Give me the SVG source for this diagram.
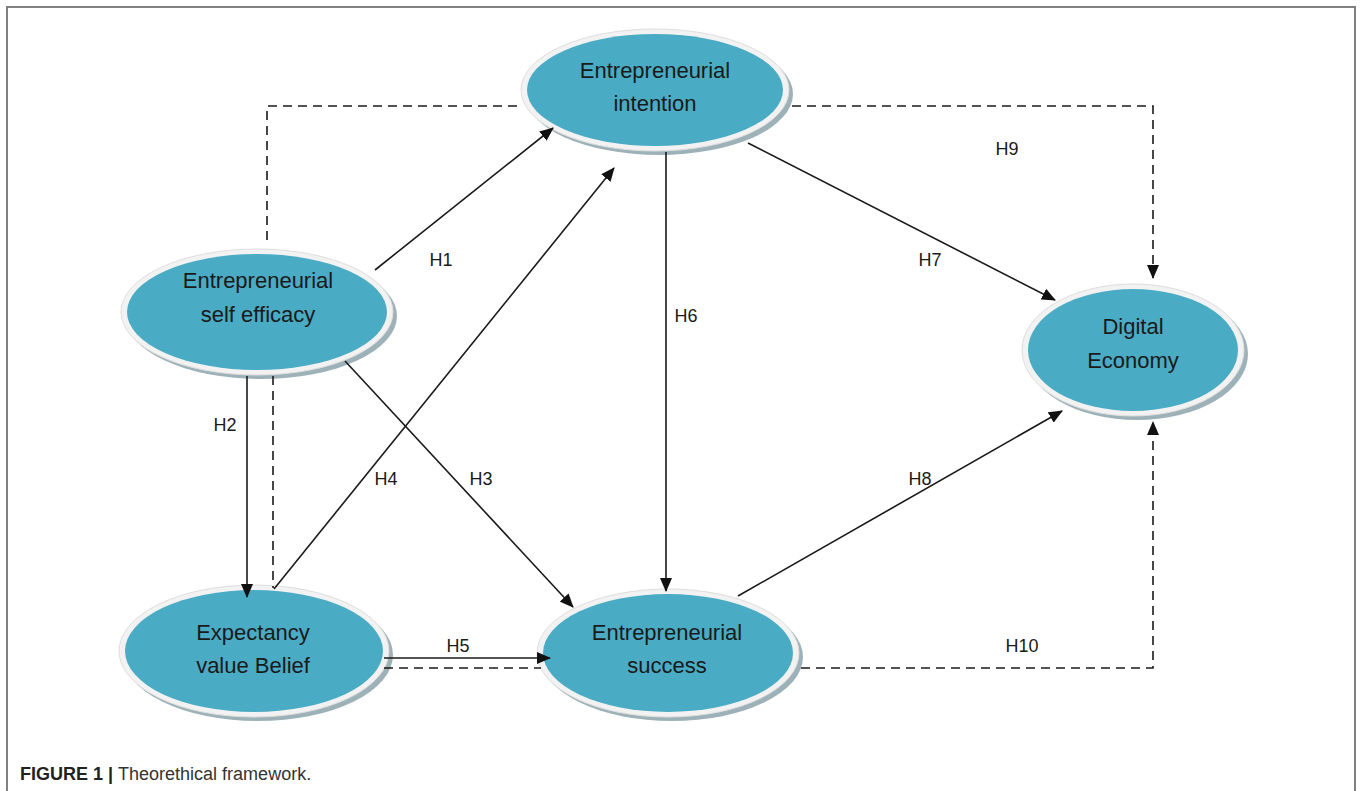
<svg xmlns="http://www.w3.org/2000/svg" width="1360" height="791" viewBox="0 0 1360 791">
<style>
.frame{fill:none;stroke:#808080;stroke-width:2}
.shadow{fill:#9db2b8}
.rim{fill:#f2f2f2;stroke:#dedede;stroke-width:1}
.body{fill:#4aabc5}
.lbl{font-family:"Liberation Sans",Arial,sans-serif;font-size:22px;fill:#1a1a1a;text-anchor:middle}
.h{font-family:"Liberation Sans",Arial,sans-serif;font-size:18px;fill:#1a1a1a;text-anchor:middle}
.sol{fill:none;stroke:#1a1a1a;stroke-width:1.6}
.dash{fill:none;stroke:#1a1a1a;stroke-width:1.6;stroke-dasharray:9,6}
.cap{font-family:"Liberation Sans",Arial,sans-serif;font-size:18px;fill:#333}
</style>
<defs>
<marker id="arr" markerUnits="userSpaceOnUse" markerWidth="14" markerHeight="12" refX="13" refY="6" orient="auto">
<path d="M0,0 L14,6 L0,12 z" fill="#111"/>
</marker>
</defs>
<rect width="1360" height="791" fill="#fff"/>
<path class="frame" d="M7,791 V7 H1355 V791"/>
<g id="node-intention">
<ellipse class="shadow" cx="659" cy="94" rx="134" ry="61"/>
<ellipse class="rim" cx="655" cy="90" rx="134" ry="61"/>
<ellipse class="body" cx="655" cy="90" rx="128" ry="56"/>
<text class="lbl" x="655" y="78">Entrepreneurial</text>
<text class="lbl" x="655" y="111">intention</text>
</g>
<g id="node-selfefficacy">
<ellipse class="shadow" cx="261" cy="316" rx="136" ry="63"/>
<ellipse class="rim" cx="257" cy="312" rx="136" ry="63"/>
<ellipse class="body" cx="257" cy="312" rx="130" ry="58"/>
<text class="lbl" x="258" y="288">Entrepreneurial</text>
<text class="lbl" x="258" y="322">self efficacy</text>
</g>
<g id="node-expectancy">
<ellipse class="shadow" cx="258" cy="655" rx="135" ry="66"/>
<ellipse class="rim" cx="254" cy="651" rx="135" ry="66"/>
<ellipse class="body" cx="254" cy="651" rx="129" ry="61"/>
<text class="lbl" x="253" y="640">Expectancy</text>
<text class="lbl" x="253" y="673">value Belief</text>
</g>
<g id="node-success">
<ellipse class="shadow" cx="672" cy="657" rx="131" ry="64"/>
<ellipse class="rim" cx="668" cy="653" rx="131" ry="64"/>
<ellipse class="body" cx="668" cy="653" rx="125" ry="59"/>
<text class="lbl" x="667" y="640">Entrepreneurial</text>
<text class="lbl" x="667" y="673">success</text>
</g>
<g id="node-digital">
<ellipse class="shadow" cx="1137" cy="354" rx="111" ry="66"/>
<ellipse class="rim" cx="1133" cy="350" rx="111" ry="66"/>
<ellipse class="body" cx="1133" cy="350" rx="105" ry="61"/>
<text class="lbl" x="1133" y="334">Digital</text>
<text class="lbl" x="1133" y="368">Economy</text>
</g>
<g id="connectors">
<path class="dash" d="M267,240 V106 H521"/>
<path class="dash" d="M792,106 H1153 V278" marker-end="url(#arr)"/>
<path class="sol" d="M375,270 L553,128" marker-end="url(#arr)"/>
<path class="sol" d="M247,376 V597" marker-end="url(#arr)"/>
<path class="dash" d="M273,376 V588"/>
<path class="sol" d="M274,589 L614,168" marker-end="url(#arr)"/>
<path class="sol" d="M345,361 L573,607" marker-end="url(#arr)"/>
<path class="sol" d="M666,152 V591" marker-end="url(#arr)"/>
<path class="sol" d="M748,143 L1055,300" marker-end="url(#arr)"/>
<path class="sol" d="M738,596 L1062,411" marker-end="url(#arr)"/>
<path class="sol" d="M384,658 H550" marker-end="url(#arr)"/>
<path class="dash" d="M384,668 H541"/>
<path class="dash" d="M801,668 H1153 V422" marker-end="url(#arr)"/>
<text class="h" x="441" y="266">H1</text>
<text class="h" x="225" y="431">H2</text>
<text class="h" x="481" y="485">H3</text>
<text class="h" x="386" y="485">H4</text>
<text class="h" x="458" y="652">H5</text>
<text class="h" x="686" y="322">H6</text>
<text class="h" x="930" y="266">H7</text>
<text class="h" x="920" y="485">H8</text>
<text class="h" x="1007" y="155">H9</text>
<text class="h" x="1022" y="652">H10</text>
</g>
<text class="cap" x="20" y="780"><tspan font-weight="bold" fill="#222">FIGURE 1 | </tspan>Theorethical framework.</text>
</svg>
